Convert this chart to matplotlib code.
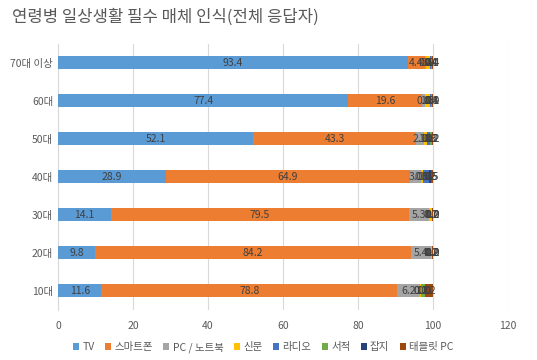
import matplotlib.pyplot as plt
import numpy as np

plt.rcParams['font.family'] = ['Noto Sans CJK KR', 'DejaVu Sans']

ages = ['70대 이상', '60대', '50대', '40대', '30대', '20대', '10대']
media = ['TV', '스마트폰', 'PC / 노트북', '신문', '라디오', '서적', '잡지', '태블릿 PC']
colors = ['#5B9BD5', '#ED7D31', '#A5A5A5', '#FFC000', '#4472C4', '#70AD47', '#264478', '#9E480E']

# share (%) per age group, one list per medium
tv      = [93.4, 77.4, 52.1, 28.9, 14.1, 9.8, 11.6]
phone   = [4.4, 19.6, 43.3, 64.9, 79.5, 84.2, 78.8]
pc      = [0.4, 0.8, 2.1, 3.0, 5.3, 5.4, 6.2]
paper   = [0.9, 1.3, 1.0, 0.5, 0.7, 0.2, 0.1]
radio   = [0.4, 0.4, 0.8, 1.5, 0.2, 0.2, 0.1]
book    = [0.1, 0.3, 0.3, 0.2, 0.0, 0.0, 1.0]
mag     = [0.0, 0.0, 0.2, 0.5, 0.0, 0.0, 0.0]
tablet  = [0.4, 0.1, 0.2, 0.5, 0.2, 0.2, 2.2]
series = [tv, phone, pc, paper, radio, book, mag, tablet]

fig = plt.figure(figsize=(5.37, 3.6), dpi=100)
ax = fig.add_axes([0.108, 0.139, 0.838, 0.739])

y = np.arange(len(ages))[::-1]
left = np.zeros(len(ages))
for name, vals, c in zip(media, series, colors):
    vals = np.array(vals)
    ax.barh(y, vals, left=left, height=0.34, color=c, label=name, zorder=3)
    for yi, l, v in zip(y, left, vals):
        ax.text(l + v / 2, yi, f'{v:.1f}', ha='center', va='center',
                fontsize=7.5, color='#404040', zorder=4)
    left += vals

ax.set_xlim(0, 120)
ax.set_ylim(-0.5, 6.5)
ax.set_xticks(np.arange(0, 121, 20))
ax.set_yticks(y)
ax.set_yticklabels(ages)
ax.tick_params(length=0, labelsize=7.5, colors='#595959')
ax.tick_params(axis='x', pad=8)
ax.grid(axis='x', color='#D9D9D9', linewidth=0.8, zorder=0)
for s in ['top', 'right', 'bottom']:
    ax.spines[s].set_visible(False)
ax.spines['left'].set_color('#D9D9D9')

fig.text(0.022, 0.952, '연령병 일상생활 필수 매체 인식(전체 응답자)', fontsize=12,
         color='#595959', va='center')

leg = fig.legend(loc='center', bbox_to_anchor=(0.49, 0.035), ncol=8, frameon=False,
                 fontsize=7.5, handlelength=0.6, handleheight=0.6, handletextpad=0.3,
                 columnspacing=1.0)
for t in leg.get_texts():
    t.set_color('#595959')

fig.savefig('out.png', dpi=100)
